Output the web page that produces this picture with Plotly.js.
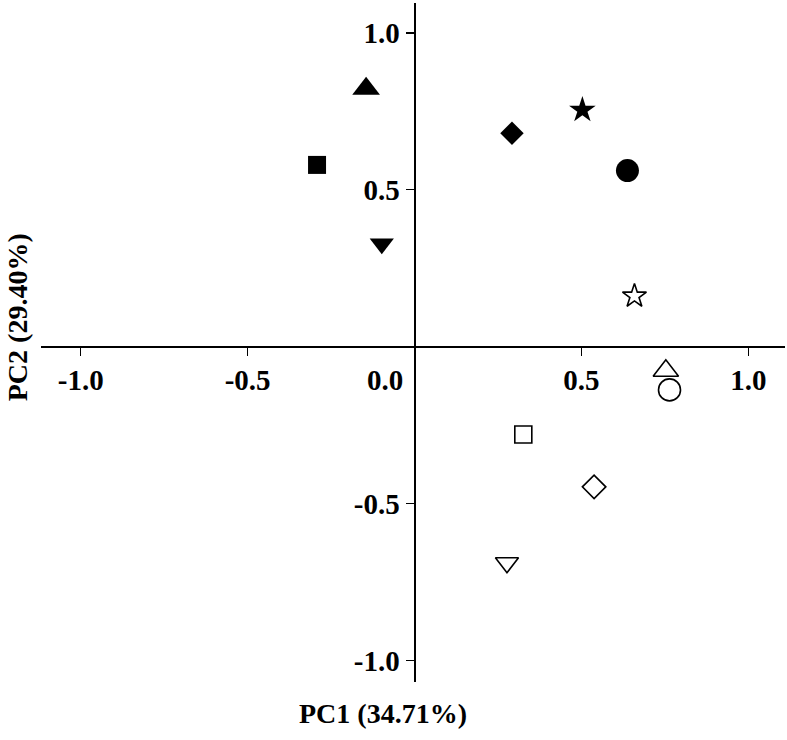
<!DOCTYPE html>
<html>
<head>
<meta charset="utf-8">
<script src="https://cdn.plot.ly/plotly-3.0.1.min.js"></script>
<style>html,body{margin:0;padding:0;background:#fff;}</style>
</head>
<body>
<div id="chart" style="width:787px;height:740px;"></div>
<script>
// Filled markers
const filledPC1 = [-0.292, -0.145, -0.098, 0.292, 0.503, 0.638];
const filledPC2 = [0.579, 0.822, 0.328, 0.680, 0.754, 0.561];
const filledSymbols = ['square', 'triangle-up', 'triangle-down', 'diamond', 'star', 'circle'];
const filledSizes = [18, 24, 21, 18, 20, 23];

// Open markers
const openPC1 = [0.326, 0.753, 0.277, 0.538, 0.659, 0.764];
const openPC2 = [-0.280, -0.077, -0.689, -0.447, 0.161, -0.138];
const openSymbols = ['square-open', 'triangle-up-open', 'triangle-down-open', 'diamond-open', 'star-open', 'circle-open'];
const openSizes = [17, 22, 20, 18, 18, 22];

// Axis ticks
const tickVals = [-1.0, -0.5, 0.5, 1.0];
const tickText = ['-1.0', '-0.5', '0.5', '1.0'];
const zeroLabel = '0.0';
const xTitle = 'PC1 (34.71%)';
const yTitle = 'PC2 (29.40%)';

const xRange = [-1.119, 1.11];
const yRange = [-1.069, 1.095];

const traces = [
  {
    type: 'scatter', mode: 'markers',
    x: filledPC1, y: filledPC2,
    marker: { symbol: filledSymbols, size: filledSizes, color: '#000', opacity: 1, line: { width: 0 } },
    hoverinfo: 'x+y', showlegend: false
  },
  {
    type: 'scatter', mode: 'markers',
    x: openPC1, y: openPC2,
    marker: { symbol: openSymbols, size: openSizes, color: '#000', opacity: 1, line: { width: 1.6, color: '#000' } },
    hoverinfo: 'x+y', showlegend: false
  }
];

const tickFont = { family: 'Liberation Serif, Times New Roman, serif', size: 29, color: '#000', weight: 'bold' };
const titleFont = { family: 'Liberation Serif, Times New Roman, serif', size: 28, color: '#000', weight: 'bold' };

const layout = {
  width: 787, height: 740,
  margin: { l: 41, r: 2, t: 3, b: 58 },
  paper_bgcolor: '#fff', plot_bgcolor: '#fff',
  showlegend: false,
  xaxis: {
    range: xRange, anchor: 'free',
    position: (0 - yRange[0]) / (yRange[1] - yRange[0]),
    showgrid: false, zeroline: false,
    showline: true, linecolor: '#000', linewidth: 2,
    ticks: 'outside', ticklen: 8, tickwidth: 1.5, tickcolor: '#000',
    tickmode: 'array', tickvals: tickVals, ticktext: tickText,
    tickfont: tickFont, fixedrange: true
  },
  yaxis: {
    range: yRange, anchor: 'free',
    position: (0 - xRange[0]) / (xRange[1] - xRange[0]),
    showgrid: false, zeroline: false,
    showline: true, linecolor: '#000', linewidth: 2,
    ticks: 'outside', ticklen: 8, tickwidth: 1.5, tickcolor: '#000',
    tickmode: 'array', tickvals: tickVals, ticktext: tickText,
    tickfont: tickFont, fixedrange: true
  },
  annotations: [
    { text: zeroLabel, xref: 'x', yref: 'y', x: 0, y: 0, xanchor: 'right', yanchor: 'middle',
      xshift: -10, yshift: -33, showarrow: false, font: tickFont },
    { text: xTitle, xref: 'paper', yref: 'paper', x: 0.46, y: -0.047, xanchor: 'center', yanchor: 'middle',
      showarrow: false, font: titleFont },
    { text: yTitle, xref: 'paper', yref: 'paper', x: -0.032, y: 0.5375, xanchor: 'center', yanchor: 'middle',
      textangle: -90, showarrow: false, font: titleFont }
  ]
};

Plotly.newPlot('chart', traces, layout, { displayModeBar: false, staticPlot: true });
</script>
</body>
</html>
